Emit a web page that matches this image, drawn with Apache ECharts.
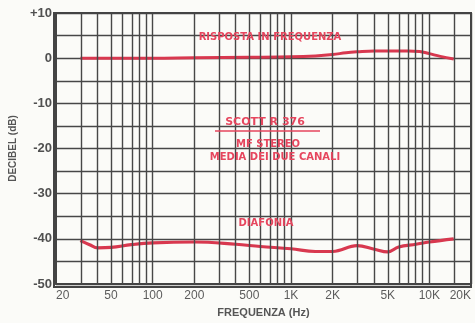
<!DOCTYPE html>
<html>
<head>
<meta charset="utf-8">
<script src="https://cdn.jsdelivr.net/npm/echarts@6/dist/echarts.min.js"></script>
<style>
html,body{margin:0;padding:0;background:#fbfbf8;}
#c{width:475px;height:323px;}
</style>
</head>
<body>
<div id="c"></div>
<script>
// ---- data ----
const xTickLabels = [20, 50, 100, 200, 500, 1000, 2000, 5000, 10000, 20000];
const xGridFreqs = [30, 40, 50, 60, 70, 80, 90, 100, 200, 300, 400, 500, 600, 700, 800, 900, 1000,
  2000, 3000, 4000, 5000, 6000, 7000, 8000, 9000, 10000, 15000];
const respFreqs = [30, 50, 100, 200, 500, 1000, 1500, 2000, 2500, 3000, 4000, 5000, 7000, 8500, 10000, 12000, 15000];
const respDb    = [0, 0, 0, 0.1, 0.2, 0.3, 0.5, 0.8, 1.2, 1.4, 1.6, 1.6, 1.6, 1.5, 1.0, 0.4, -0.2];
const xtalkFreqs = [30, 35, 40, 50, 70, 100, 200, 400, 600, 1000, 1500, 2000, 3000, 4000, 5000, 6000, 8000, 10000, 15000];
const xtalkDb    = [-40.4, -41.3, -42, -41.9, -41.3, -40.9, -40.7, -41.2, -41.7, -42.2, -42.8, -42.8, -41.5, -42.3, -42.9, -41.8, -41.2, -40.7, -40];
const yMin = -50, yMax = 10;

const L = v => Math.log10(v);
const fmtF = v => { const f = Math.round(Math.pow(10, v)); return f >= 1000 ? (f / 1000) + 'K' : String(f); };
const red = '#d8384f', txtRed = '#e6465e', gridC = '#474747';
const redFont = 'bold 10px DejaVu Sans';

const chart = echarts.init(document.getElementById('c'), null, {renderer: 'canvas'});
chart.setOption({
  backgroundColor: '#fbfbf8',
  animation: false,
  grid: {left: 54, top: 13, right: 4, bottom: 36},
  xAxis: {
    type: 'value', min: L(20), max: L(20000),
    name: 'FREQUENZA (Hz)', nameLocation: 'middle', nameGap: 23,
    nameTextStyle: {fontFamily: 'Liberation Sans Narrow, Liberation Sans', fontWeight: 'bold', fontSize: 11, color: '#555'},
    axisLine: {show: true, onZero: false, lineStyle: {color: '#444', width: 2}},
    axisTick: {show: false},
    splitLine: {show: false},
    axisLabel: {
      customValues: xTickLabels.map(L), formatter: fmtF, margin: 6,
      alignMinLabel: 'left', alignMaxLabel: 'right',
      fontFamily: 'Liberation Sans', fontSize: 12, color: '#5c5c5c'
    }
  },
  yAxis: {
    type: 'value', min: yMin, max: yMax, interval: 5,
    name: 'DECIBEL (dB)', nameLocation: 'middle', nameGap: 38,
    nameTextStyle: {fontFamily: 'Liberation Sans Narrow, Liberation Sans', fontWeight: 'bold', fontSize: 10, color: '#555'},
    axisLine: {show: true, lineStyle: {color: '#444', width: 2}},
    axisTick: {show: false},
    splitLine: {show: true, lineStyle: {color: gridC, width: 1.4}},
    axisLabel: {
      formatter: v => (v % 10 === 0 ? (v > 0 ? '+' + v : String(v)) : ''),
      margin: 4, fontFamily: 'Liberation Sans', fontWeight: 'bold', fontSize: 13, color: '#505050'
    }
  },
  series: [
    {
      type: 'line', data: [], silent: true,
      markLine: {
        silent: true, symbol: ['none', 'none'], label: {show: false},
        lineStyle: {color: gridC, width: 1.4, type: 'solid'},
        data: xGridFreqs.map(f => ({xAxis: L(f)})).concat([{xAxis: L(20000)}])
      }
    },
    {
      name: 'risposta', type: 'line', showSymbol: false, smooth: 0.4,
      lineStyle: {color: red, width: 3}, itemStyle: {color: red},
      data: respFreqs.map((f, i) => [L(f), respDb[i]])
    },
    {
      name: 'diafonia', type: 'line', showSymbol: false, smooth: 0.4,
      lineStyle: {color: red, width: 3.2}, itemStyle: {color: red},
      data: xtalkFreqs.map((f, i) => [L(f), xtalkDb[i]])
    }
  ],
  graphic: [
    {type: 'rect', shape: {x: 54, y: 13, width: 417, height: 274}, style: {fill: 'none', stroke: '#444', lineWidth: 2}, silent: true, z: 10},
    {type: 'text', x: 270, y: 37, style: {text: 'RISPOSTA IN FREQUENZA', fill: txtRed, font: redFont, align: 'center', verticalAlign: 'middle'}, z: 20},
    {type: 'text', x: 265, y: 122, style: {text: 'SCOTT R 376', fill: txtRed, font: 'bold 11px DejaVu Sans', align: 'center', verticalAlign: 'middle'}, z: 20},
    {type: 'line', shape: {x1: 215, y1: 131, x2: 320, y2: 131}, style: {stroke: txtRed, lineWidth: 1.5}, z: 20},
    {type: 'text', x: 268, y: 144, style: {text: 'MF STEREO', fill: txtRed, font: redFont, align: 'center', verticalAlign: 'middle'}, z: 20},
    {type: 'text', x: 275, y: 157, style: {text: 'MEDIA DEI DUE CANALI', fill: txtRed, font: redFont, align: 'center', verticalAlign: 'middle'}, z: 20},
    {type: 'text', x: 266, y: 223, style: {text: 'DIAFONIA', fill: txtRed, font: redFont, align: 'center', verticalAlign: 'middle'}, z: 20}
  ]
});
</script>
</body>
</html>
